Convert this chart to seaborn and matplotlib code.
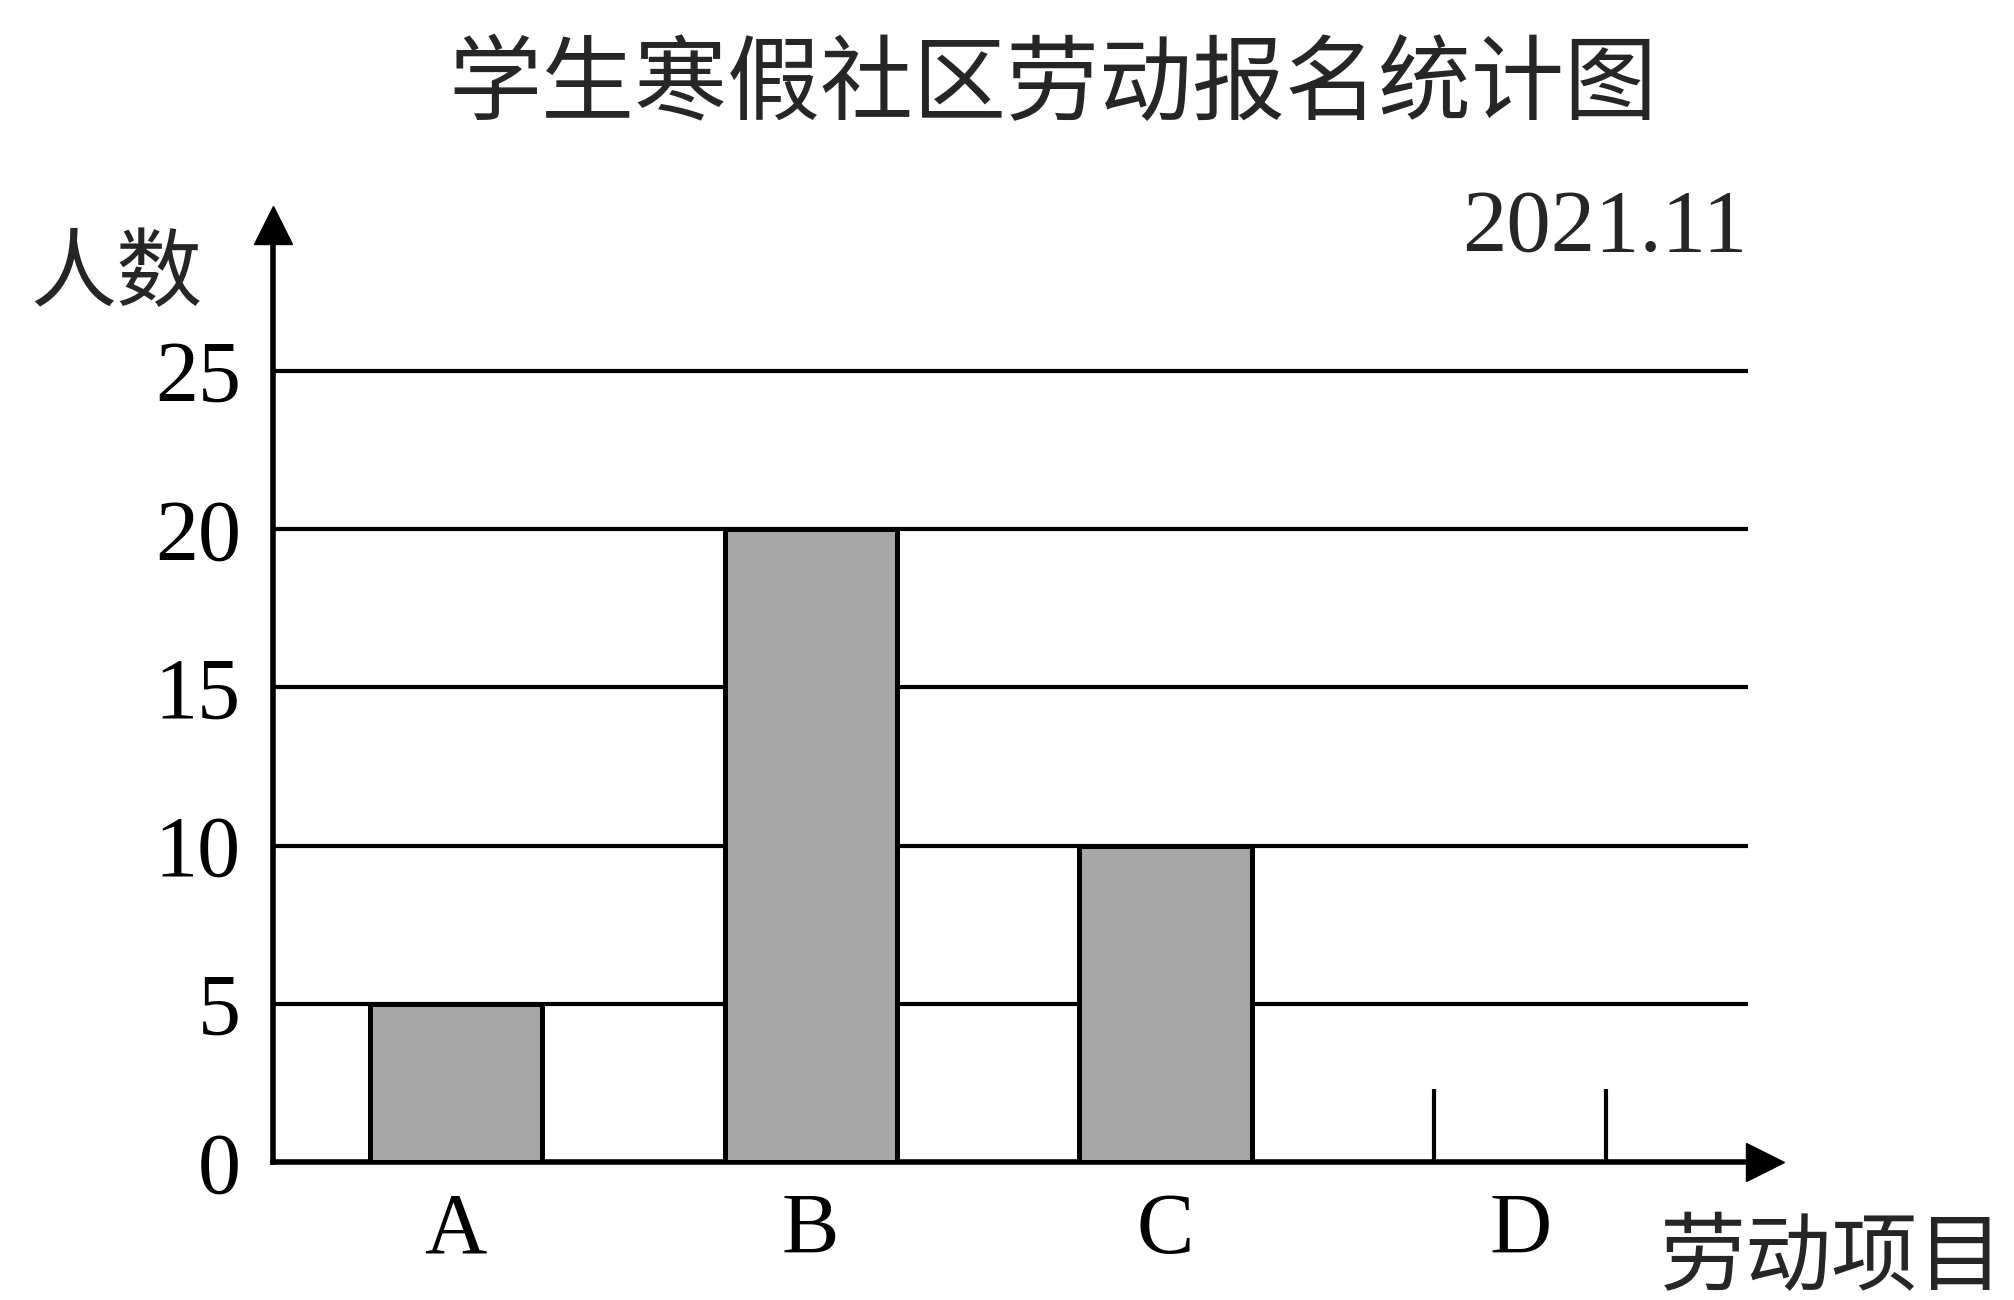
import pandas as pd
import matplotlib
matplotlib.use('Agg')
import matplotlib.pyplot as plt
import seaborn as sns

# chart data
items = ['A', 'B', 'C', 'D']
counts = [5, 20, 10]          # D is left unfinished in the original
d_partial = 2.3               # height of the two unfinished edge lines of D
y_ticks = [0, 5, 10, 15, 20, 25]

df = pd.DataFrame({'项目': items[:3], '人数': counts})

sns.set_style('white')
plt.rcParams['font.family'] = ['Liberation Serif', 'Noto Sans CJK SC', 'DejaVu Sans']
cjk = ['Noto Sans CJK SC', 'DejaVu Sans']

fig = plt.figure(figsize=(20.14, 13), dpi=100)
ax = fig.add_axes([0.1355, 0.1062, 0.741, 0.7205])

bar_w = 0.485
sns.barplot(data=df, x='项目', y='人数', order=items, color='#a6a6a6',
            width=bar_w, edgecolor='black', linewidth=3.6, saturation=1,
            zorder=3, ax=ax)

ax.set_xlim(-0.515, 3.69)
ax.set_ylim(0, 29.6)

# horizontal reference lines
ax.hlines(y_ticks[1:], -0.515, 3.64, color='black', lw=3, zorder=1)

# unfinished bar D: only the two sides are drawn
d_pos = items.index('D')
ax.vlines([d_pos - bar_w / 2, d_pos + bar_w / 2], 0, d_partial,
          color='black', lw=3, zorder=3)

# axes with arrows
for s in ['top', 'right']:
    ax.spines[s].set_visible(False)
for s in ['left', 'bottom']:
    ax.spines[s].set_color('black')
    ax.spines[s].set_linewidth(4)
ax.plot(0, 1, '^', color='black', ms=27, transform=ax.transAxes, clip_on=False)
ax.plot(1, 0, '>', color='black', ms=27, transform=ax.transAxes, clip_on=False)

ax.set_yticks(y_ticks)
ax.set_yticklabels([str(v) for v in y_ticks])
ax.tick_params(axis='both', length=0, labelsize=62, colors='black')
ax.tick_params(axis='y', pad=23)
ax.tick_params(axis='x', pad=22)
ax.set_xlabel('')
ax.set_ylabel('')

fig.text(0.523, 0.934, '学生寒假社区劳动报名统计图', fontsize=67, family=cjk,
         ha='center', va='center')
fig.text(0.0576, 0.788, '人数', fontsize=62, family=cjk, ha='center', va='center')
fig.text(0.9096, 0.031, '劳动项目', fontsize=62, family=cjk, ha='center', va='center')
fig.text(0.8674, 0.824, '2021.11', fontsize=64, ha='right', va='center')

fig.savefig('out.png', dpi=100, facecolor='white')
